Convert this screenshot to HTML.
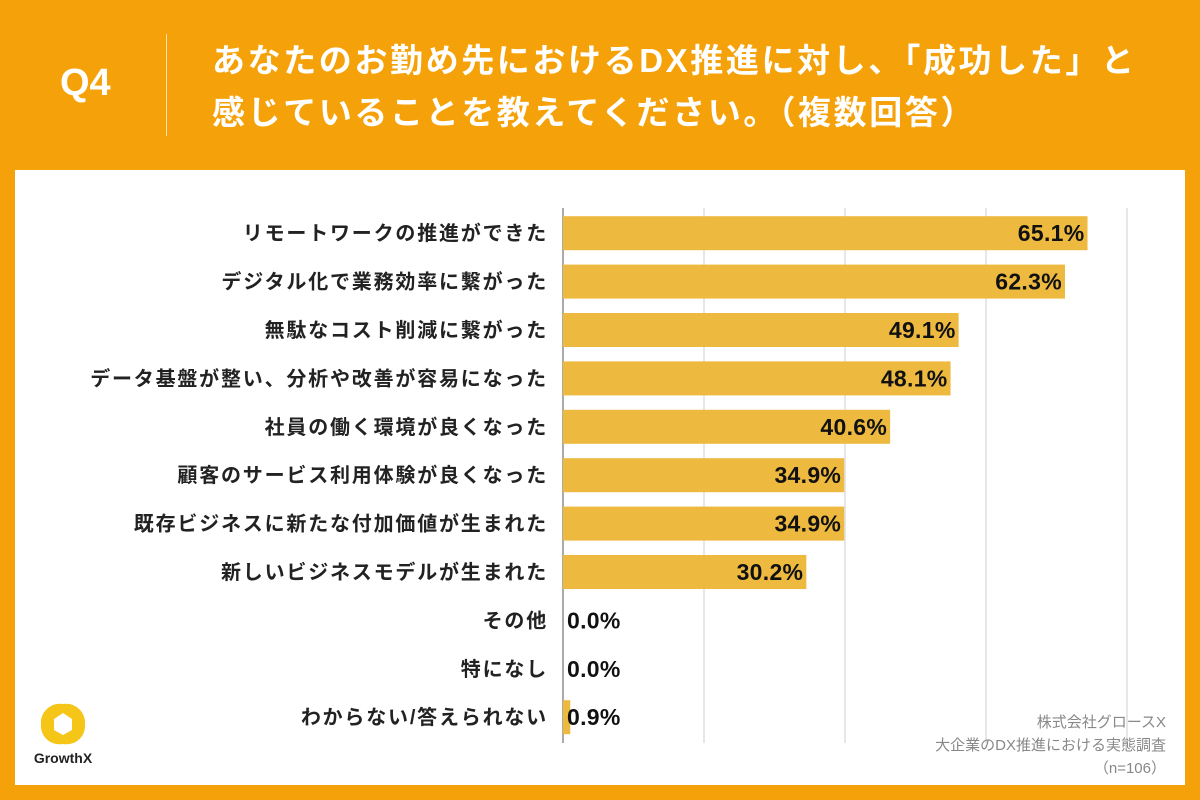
<!DOCTYPE html>
<html><head><meta charset="utf-8">
<style>
body{margin:0;width:1200px;height:800px;background:#F5A20A;position:relative;overflow:hidden;font-family:"Liberation Sans","Noto Sans CJK JP",sans-serif;}
#q{position:absolute;left:60px;top:62px;color:#fff;font-weight:bold;font-size:38px;}
#sep{position:absolute;left:166px;top:34px;width:1px;height:102px;background:#fbe2b0;}
#title{position:absolute;left:212px;top:35px;color:#fff;font-weight:bold;font-size:33px;line-height:52px;letter-spacing:2.6px;white-space:nowrap;}
#panel{position:absolute;left:15px;top:170px;width:1170px;height:615px;background:#fff;}
svg{position:absolute;left:0;top:0;}
</style></head><body>
<div id="q">Q4</div>
<div id="sep"></div>
<div id="title">あなたのお勤め先におけるDX推進に対し、「成功した」と<br>感じていることを教えてください。（複数回答）</div>
<div id="panel"></div>
<svg id="chart" width="1200" height="800"></svg>
<script>
const categories=["リモートワークの推進ができた","デジタル化で業務効率に繋がった","無駄なコスト削減に繋がった","データ基盤が整い、分析や改善が容易になった","社員の働く環境が良くなった","顧客のサービス利用体験が良くなった","既存ビジネスに新たな付加価値が生まれた","新しいビジネスモデルが生まれた","その他","特になし","わからない/答えられない"];
const values=[65.1,62.3,49.1,48.1,40.6,34.9,34.9,30.2,0.0,0.0,0.9];
const gridTicks=[0,17.5,35,52.5,70];
const NS="http://www.w3.org/2000/svg";
const svg=document.getElementById('chart');
const x0=563,x1=1127,xMax=70;
const xs=v=>x0+(v/xMax)*(x1-x0);
const yTop=209,rowH=48.4,barH=34;
const ys=i=>yTop+i*rowH+rowH/2;
function mk(t,a){const e=document.createElementNS(NS,t);for(const k in a)e.setAttribute(k,a[k]);svg.appendChild(e);return e;}
gridTicks.forEach((t,i)=>{
  const l=mk('line',{x1:xs(t),x2:xs(t),y1:208,y2:743,stroke:i==0?'#555':'#cfcfcf','stroke-width':1});
  
  
});
categories.forEach((c,i)=>{
  const y=ys(i),v=values[i];
  const r=mk('rect',{x:x0,y:y-barH/2,width:Math.max(0,xs(v)-x0),height:barH,fill:'#EDB93F'});
  
  
  const lab=mk('text',{x:548,y:y+7,'text-anchor':'end','font-size':20,'font-weight':'bold',fill:'#222','letter-spacing':1.8});
  lab.textContent=c;
  
  
  const inside=v>10;
  const vt=mk('text',{x:inside?xs(v)-3:x0+4,y:y+8,'text-anchor':inside?'end':'start','font-size':23,'font-weight':'bold',fill:'#111','letter-spacing':0.3});
  vt.textContent=v.toFixed(1)+'%';
  
  
});
[["株式会社グロースX",727],["大企業のDX推進における実態調査",750],["（n=106）",773]].forEach(([t,y])=>{
  const e=mk('text',{x:1166,y:y,'text-anchor':'end','font-size':15,fill:'#888'});
  e.textContent=t;
  
  
});
const logo=mk('path',{d:'M63 704 C75 702 86 712 85 724 C86 737 75 746 63 744 C51 746 40 737 41 724 C40 712 51 702 63 704 Z M63 713 L54 719 L54 730 L63 735 L72 730 L72 719 Z','fill':'#F5C518','fill-rule':'evenodd'});


const lt=mk('text',{x:63,y:763,'text-anchor':'middle','font-size':14,'font-weight':'bold',fill:'#222'});
lt.textContent='GrowthX';


</script>
</body></html>
